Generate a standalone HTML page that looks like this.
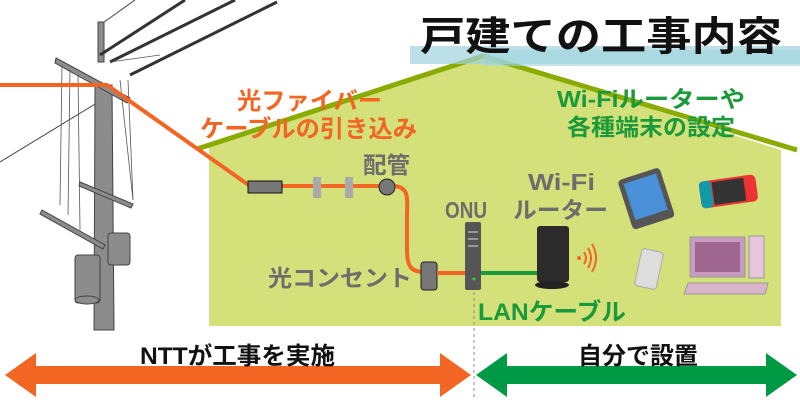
<!DOCTYPE html>
<html><head><meta charset="utf-8"><style>
body{margin:0;width:800px;height:400px;overflow:hidden;background:#fff}
svg text{font-family:"Liberation Sans","Noto Sans CJK JP",sans-serif;font-weight:bold}
</style></head><body>
<svg width="800" height="400" viewBox="0 0 800 400" xmlns="http://www.w3.org/2000/svg">
<!-- house -->
<polygon points="209,146 483,56 781,150 781,326 209,326" fill="#d4e07a"/>
<polyline points="197,149 483,56 797,150" fill="none" stroke="#8aab00" stroke-width="5"/>
<!-- title band -->
<rect x="410" y="46" width="390" height="18" fill="#9fd3de" opacity="0.7"/>
<rect x="483" y="50" width="317" height="16" fill="#9fd3de" opacity="0.6"/>
<text x="420" y="50" font-size="40" fill="#111" textLength="362" lengthAdjust="spacingAndGlyphs">戸建ての工事内容</text>
<!-- pole -->
<g stroke="#444" fill="#8c8c8c" stroke-width="1">
<line x1="135" y1="0" x2="100" y2="25" />
<line x1="0" y1="162" x2="110" y2="95"/>
<path d="M95,85 L112,85 L114,330 L94,330 Z"/>
<rect x="98" y="22" width="6" height="40"/>
<path d="M56,58 L130,98 L127,103 L55,63 Z"/>
<path d="M80,182 L133,204 L131,208 L79,186 Z"/>
<path d="M42,210 L105,245 L103,249 L40,214 Z"/>
<rect x="75" y="255" width="25" height="48" rx="3"/>
<rect x="108" y="233" width="22" height="32" rx="3"/>
<ellipse cx="87" cy="300" rx="12" ry="4"/>
</g>
<g stroke="#333" stroke-width="3" fill="none">
<path d="M100,55 L185,0"/><path d="M110,62 L235,0"/><path d="M130,75 L277,2"/>
</g>
<g stroke="#555" stroke-width="0.8" fill="none">
<line x1="62" y1="65" x2="60" y2="205"/><line x1="70" y1="70" x2="68" y2="215"/>
<line x1="78" y1="75" x2="80" y2="230"/><line x1="128" y1="80" x2="133" y2="200"/>
<line x1="120" y1="80" x2="133" y2="200"/><line x1="110" y1="62" x2="160" y2="55"/>
</g>
<!-- fiber -->
<polyline points="0,85 107,85 250,186 395,186" fill="none" stroke="#f26522" stroke-width="4"/>
<path d="M395,186 C410,188 407,200 407,215 L407,250 C407,268 412,272 425,272" fill="none" stroke="#f26522" stroke-width="4"/>
<rect x="248" y="181" width="34" height="12" fill="#777" stroke="#111"/>
<rect x="313" y="177" width="8" height="21" fill="#aaa"/>
<rect x="345" y="177" width="8" height="21" fill="#aaa"/>
<circle cx="387" cy="187" r="8" fill="#777" stroke="#222"/>
<rect x="421" y="262" width="16" height="28" rx="3" fill="#777" stroke="#222"/>
<line x1="437" y1="273" x2="467" y2="273" stroke="#f26522" stroke-width="4"/>
<line x1="480" y1="273" x2="540" y2="273" stroke="#1a9a3a" stroke-width="4"/>
<!-- ONU -->
<rect x="465" y="222" width="16" height="68" rx="2" fill="#555"/>
<rect x="468" y="231" width="10" height="2" fill="#999"/><rect x="468" y="238" width="10" height="2" fill="#999"/><rect x="468" y="245" width="10" height="2" fill="#999"/>
<circle cx="474" cy="279" r="1.5" fill="#3c3"/>
<!-- router -->
<rect x="537" y="226" width="32" height="56" rx="3" fill="#2b2b2b"/>
<ellipse cx="552" cy="285" rx="17" ry="4" fill="#222"/>
<circle cx="579" cy="258" r="2" fill="#f26522"/>
<g fill="none" stroke="#f26522" stroke-width="2"><path d="M584,252 Q588,258 584,264"/><path d="M588,248 Q594,258 588,268"/><path d="M592,244 Q600,258 592,272"/></g>
<!-- devices -->
<g transform="rotate(-18 645 198)"><rect x="624" y="173" width="44" height="52" rx="4" fill="#555"/><rect x="629" y="178" width="34" height="38" fill="#4a90d9"/></g>
<rect x="700" y="178" width="57" height="27" rx="5" fill="#e33" transform="rotate(-8 728 192)"/>
<rect x="700" y="178" width="12" height="27" rx="4" fill="#19a" transform="rotate(-8 728 192)"/>
<rect x="713" y="180" width="32" height="23" fill="#333" transform="rotate(-8 728 192)"/>
<rect x="638" y="250" width="22" height="38" rx="3" fill="#ddd" stroke="#aaa" transform="rotate(12 649 269)"/>
<rect x="690" y="237" width="55" height="40" fill="#c99bc0" stroke="#999"/>
<rect x="695" y="242" width="45" height="30" fill="#a06890"/>
<rect x="749" y="236" width="15" height="42" fill="#e6c5dd" stroke="#999"/>
<path d="M688,283 L768,283 L765,294 L684,294 Z" fill="#d9b5cd" stroke="#999"/>
<!-- labels -->
<g font-size="24" fill="#f26522" lengthAdjust="spacingAndGlyphs">
<text x="237" y="109" textLength="145" lengthAdjust="spacingAndGlyphs">光ファイバー</text>
<text x="200" y="137" textLength="217" lengthAdjust="spacingAndGlyphs">ケーブルの引き込み</text></g>
<g font-size="23" fill="#6d6d6d">
<text x="363" y="173" textLength="47" lengthAdjust="spacingAndGlyphs">配管</text>
<text x="268" y="286" textLength="144" lengthAdjust="spacingAndGlyphs">光コンセント</text>
<text x="445" y="218" textLength="42" lengthAdjust="spacingAndGlyphs">ONU</text>
<text x="528" y="190" textLength="67" lengthAdjust="spacingAndGlyphs">Wi-Fi</text>
<text x="513" y="218" textLength="95" lengthAdjust="spacingAndGlyphs">ルーター</text></g>
<g font-size="23" fill="#1a9a3a">
<text x="557" y="107" textLength="188" lengthAdjust="spacingAndGlyphs">Wi-Fiルーターや</text>
<text x="567" y="135" textLength="168" lengthAdjust="spacingAndGlyphs">各種端末の設定</text>
<text x="478" y="320" font-size="24" textLength="148" lengthAdjust="spacingAndGlyphs">LANケーブル</text></g>
<!-- bottom -->
<line x1="474" y1="292" x2="474" y2="400" stroke="#888" stroke-dasharray="3,3"/>
<path d="M5,375 L36,353 L36,366 L440,366 L440,353 L471,375 L440,397 L440,384 L36,384 L36,397 Z" fill="#f26522"/>
<path d="M476,375 L507,353 L507,366 L766,366 L766,353 L797,375 L766,397 L766,384 L507,384 L507,397 Z" fill="#009a44"/>
<text x="140" y="364" font-size="24" fill="#111" textLength="195" lengthAdjust="spacingAndGlyphs">NTTが工事を実施</text>
<text x="578" y="364" font-size="24" fill="#111" textLength="120" lengthAdjust="spacingAndGlyphs">自分で設置</text>
</svg>
</body></html>
